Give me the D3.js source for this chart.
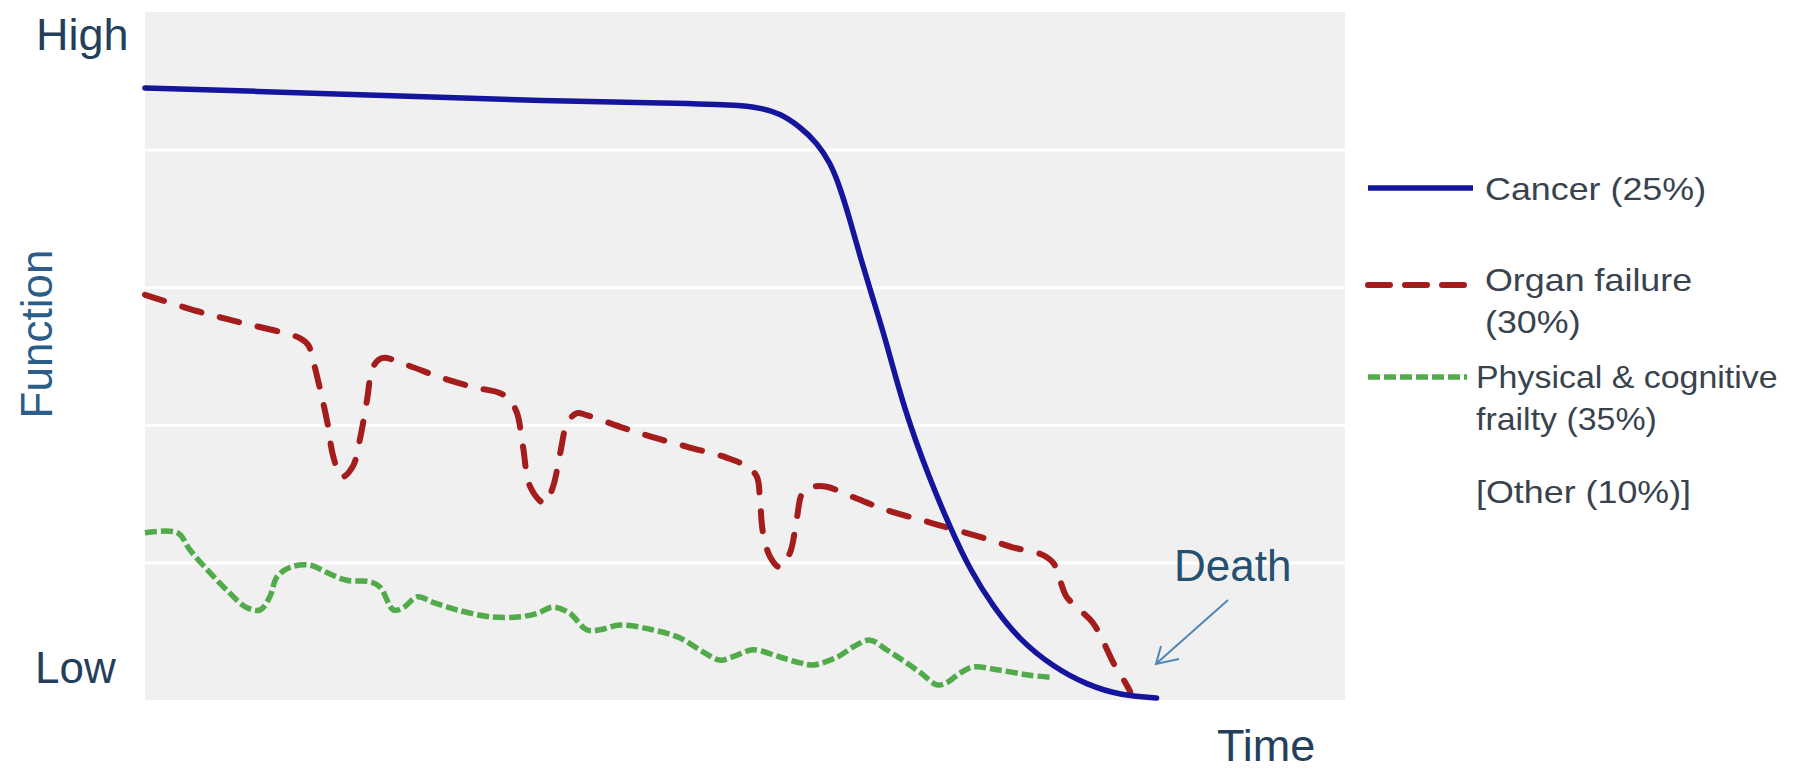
<!DOCTYPE html>
<html><head><meta charset="utf-8">
<script src="https://cdn.jsdelivr.net/npm/d3@7"></script>
<style>
html,body{margin:0;padding:0;background:#fff;}
svg{display:block;font-family:"Liberation Sans",Arial,sans-serif;}
</style></head><body>
<svg id="chart" width="1793" height="772"></svg>
<script>
// ---------- data (time 0..100, function 0 = Low .. 100 = High) ----------
const timeCancer = [0, 8.75, 21.25, 33.75, 42.1, 49.6, 51.25, 52.9, 54.6, 56, 57.1, 57.9, 58.75, 59.6, 60.7, 61.8, 63.2, 65.4, 67.1, 68.75, 70.7, 72.9, 75.7, 78.5, 81.25, 84.3];
const cancer     = [88.95, 88.5, 87.8, 87.06, 86.8, 86.5, 86.05, 85.3, 83.3, 81.0, 78.1, 74.6, 69.8, 64.4, 58.1, 51.9, 42.6, 32.0, 25.1, 18.9, 13.5, 8.7, 4.8, 2.2, 0.7, 0.3];

const timeOrgan = [0,4.6,7.9,11.25,12.9,13.6,14,14.6,15.2,15.7,16.4,17.3,17.9,18.5,19,19.75,21.8,24.6,27.3,29.6,30.4,31,31.5,32.1,33.3,34,34.6,35.2,36,36.8,39.6,42.3,45.2,48.5,50.2,51,51.25,51.5,52.1,52.9,53.75,54.3,54.8,55.7,56.8,59,61.8,64.6,66.8,69.6,72.3,74.8,75.7,76.25,76.8,77.9,79,79.8,80.7,81.7,82.1];
const organ     = [58.9,56.4,54.9,53.5,52.6,51.6,49.4,45.1,40.3,35.3,32.4,33.9,37.8,43.6,48.4,49.7,48.7,46.9,45.5,44.6,43.6,41.7,36.8,31.0,28.6,31.0,35.9,40.3,41.7,41.4,39.7,38.2,36.8,35.2,33.9,32.4,29.1,24.3,20.8,19.3,21.4,26.2,30.1,31.0,31.0,29.5,27.6,26.2,25.1,23.7,22.2,21.1,19.9,17.4,15.0,13.1,11.2,8.7,5.4,2.5,1.2];

const timeFrailty = [0,2.7,3.75,5.2,6.8,8.5,9.6,10.4,11,12.1,13.75,15.2,16.8,18.75,19.6,20.7,21.5,22.7,24,26,28.75,31.25,32.7,34,35.4,36.8,37.9,39.6,42.3,44.6,46.5,47.9,49.3,50.7,52.9,54.6,55.7,57.7,59,60.4,61.8,63.2,64.6,66,66.8,67.9,69,71,73.75,75.4];
const frailty     = [24.3,24.3,21.8,18.9,16.0,13.4,13.1,15.0,17.9,19.3,19.6,18.5,17.4,17.2,16.4,13.1,13.4,15.0,14.2,13.1,12.1,12.1,12.6,13.5,12.6,10.2,10.2,10.9,10.2,9.0,7.0,5.8,6.5,7.3,6.25,5.4,5.1,6.25,7.7,8.7,7.3,5.7,4.0,2.2,2.5,3.9,4.8,4.4,3.6,3.3];

const gridValues  = [20, 40, 60, 80];
const yTickLabels = ["Low", "High"];
const yTitle = "Function";
const xTitle = "Time";
const annotation = "Death";
const legendLabels = [["Cancer (25%)"], ["Organ failure", "(30%)"], ["Physical & cognitive", "frailty (35%)"]];
const legendNote = "[Other (10%)]";

// ---------- layout ----------
const svg = d3.select("#chart");
const plot = {left:145, right:1345, top:12, bottom:700};
const x = d3.scaleLinear().domain([0,100]).range([plot.left, plot.right]);
const y = d3.scaleLinear().domain([0,100]).range([plot.bottom, plot.top]);

const styles = [
  {color:"#14149c", width:5.5, dash:null, cap:"round", curve:d3.curveBasis},
  {color:"#a51c1c", width:6, dash:"20,19", cap:"round", curve:d3.curveCatmullRom.alpha(0.5)},
  {color:"#52ab4a", width:5.5, dash:"12,4", cap:"butt", curve:d3.curveCatmullRom.alpha(0.5)}
];

svg.append("rect")
  .attr("x", plot.left).attr("y", plot.top)
  .attr("width", plot.right - plot.left).attr("height", plot.bottom - plot.top)
  .attr("fill", "#f0f0f0");

svg.append("g")
  .attr("transform", `translate(${plot.left},0)`)
  .call(d3.axisLeft(y).tickValues(gridValues).tickSize(-(plot.right - plot.left)).tickFormat(""))
  .call(g => g.select(".domain").remove())
  .selectAll("line").attr("stroke", "#ffffff").attr("stroke-width", 3);

// y tick labels
svg.append("text").attr("x", 36).attr("y", y(100) + 38)
  .attr("font-size", 45).attr("fill", "#243f5c").text(yTickLabels[1]);
svg.append("text").attr("x", 35).attr("y", y(0) - 17)
  .attr("font-size", 44).attr("fill", "#243f5c").text(yTickLabels[0]);

// axis titles
svg.append("text")
  .attr("transform", `translate(52,${(plot.top + plot.bottom)/2 - 22}) rotate(-90)`)
  .attr("text-anchor", "middle").attr("font-size", 44).attr("fill", "#2c5c88")
  .text(yTitle);
svg.append("text").attr("x", 1217).attr("y", 761)
  .attr("font-size", 45).attr("fill", "#243f5c").text(xTitle);

// lines
const series = [d3.zip(timeCancer, cancer), d3.zip(timeOrgan, organ), d3.zip(timeFrailty, frailty)];
[2, 1, 0].forEach(i => {
  const s = styles[i];
  const line = d3.line().x(d => x(d[0])).y(d => y(d[1])).curve(s.curve);
  svg.append("path").datum(series[i])
    .attr("d", line)
    .attr("fill", "none")
    .attr("stroke", s.color)
    .attr("stroke-width", s.width)
    .attr("stroke-linecap", s.cap)
    .attr("stroke-linejoin", "round")
    .attr("stroke-dasharray", s.dash);
});

// Death annotation
svg.append("text").attr("x", 1174).attr("y", 581)
  .attr("font-size", 44).attr("fill", "#25506f").text(annotation);
svg.append("path").attr("d", "M1228,600 L1157,663")
  .attr("stroke", "#4f86b8").attr("stroke-width", 2).attr("fill", "none");
svg.append("path").attr("d", "M1161,646 L1156,664 L1179,659")
  .attr("stroke", "#4f86b8").attr("stroke-width", 2).attr("fill", "none")
  .attr("stroke-linejoin", "miter");

// legend
const legendRows = [
  {lineY:188, x1:1368, x2:1473, textX:1485, textY:200, sx:1.12},
  {lineY:285, x1:1368, x2:1473, textX:1485, textY:291, sx:1.12},
  {lineY:377, x1:1368, x2:1467, textX:1476, textY:388, sx:1.06}
];
legendRows.forEach((r, i) => {
  const s = styles[i];
  svg.append("line")
    .attr("x1", r.x1).attr("x2", r.x2).attr("y1", r.lineY).attr("y2", r.lineY)
    .attr("stroke", s.color).attr("stroke-width", s.width)
    .attr("stroke-linecap", i === 1 ? "round" : "butt")
    .attr("stroke-dasharray", i === 1 ? "22,15" : s.dash);
  const t = svg.append("g")
    .attr("transform", `translate(${r.textX},${r.textY}) scale(${r.sx},1)`)
    .append("text").attr("font-size", 32).attr("fill", "#39434d");
  legendLabels[i].forEach((lbl, k) => {
    t.append("tspan").attr("x", 0).attr("dy", k === 0 ? 0 : 42).text(lbl);
  });
});
svg.append("g")
  .attr("transform", "translate(1476,503) scale(1.12,1)")
  .append("text").attr("font-size", 32).attr("fill", "#39434d").text(legendNote);
</script>
</body></html>
